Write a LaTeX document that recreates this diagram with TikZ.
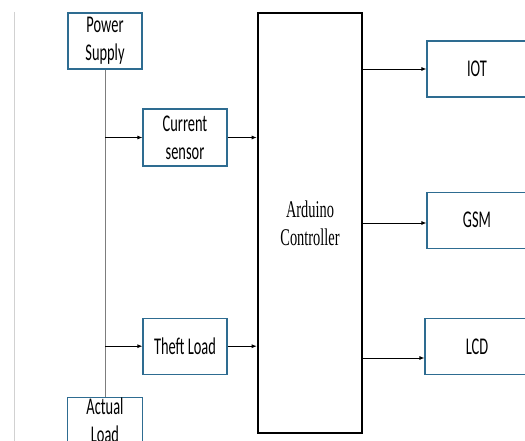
\documentclass[tikz,border=0pt]{standalone}
\usepackage{fontspec}
\setmainfont{Liberation Serif}[FakeStretch=0.6]
\newfontfamily\boxfont{Carlito}[FakeStretch=0.6]
\usetikzlibrary{positioning,arrows.meta}
\definecolor{boxblue}{RGB}{46,108,145}
\definecolor{railgray}{RGB}{125,125,125}

\begin{document}
\begin{tikzpicture}[
    x=1pt, y=-1pt,
    node distance=31pt and 31pt, % Vertical and horizontal distances
    block/.style={rectangle, draw=boxblue, line width=1.2pt, align=center, inner sep=0pt, minimum width=84pt, minimum height=56pt, font=\boxfont\fontsize{24}{28}\selectfont},
    ctrlbox/.style={rectangle, draw=black, line width=2.6pt, align=center, minimum width=104pt, minimum height=420pt, font=\fontsize{24}{28}\selectfont},
    arrow/.style={draw, line width=0.8pt, -{Latex[length=5pt, width=4pt]}} % small filled tip
]
    \useasboundingbox (0,0) rectangle (525,441);
    \clip (0,0) rectangle (525,441);
    \draw [black!18, line width=0.8pt] (14,12) -- (14,441);

    % Nodes
    \node (ctrl) [ctrlbox] at (310,223) {Arduino\\Controller};
    \node (power) [block, minimum width=74pt] at (105,41) {Power\\Supply};
    \node (actual) [block, minimum width=75pt, minimum height=0pt, inner ysep=1pt, below=327pt of power] {Actual\\Load};
    \node (sensor) [block, minimum height=57pt] at (185,137.5) {Current\\sensor};
    \node (theft) [block, below=151pt of sensor] {Theft Load};
    \node (iot) [block, minimum width=100pt] at (477,69) {IOT};
    \node (gsm) [block, minimum width=100pt, below=94pt of iot] {GSM};
    \node (lcd) [block, minimum width=104pt, below=69pt of gsm] {LCD};

    % Connections
    \draw [railgray, line width=0.8pt] (power.south) -- (actual.north);
    \path [arrow] (power.south |- sensor.west) -- (sensor);
    \path [arrow] (power.south |- theft.west) -- (theft);
    \path [arrow] (sensor) -- (ctrl.west |- sensor.east);
    \path [arrow] (theft) -- (ctrl.west |- theft.east);
    \path [arrow] (ctrl.east |- iot.west) -- (iot);
    \path [arrow] (ctrl.east |- 0,223) -- (gsm.west |- 0,223);
    \path [arrow] (ctrl.east |- 0,358) -- (lcd.west |- 0,358);

\end{tikzpicture}
\end{document}
